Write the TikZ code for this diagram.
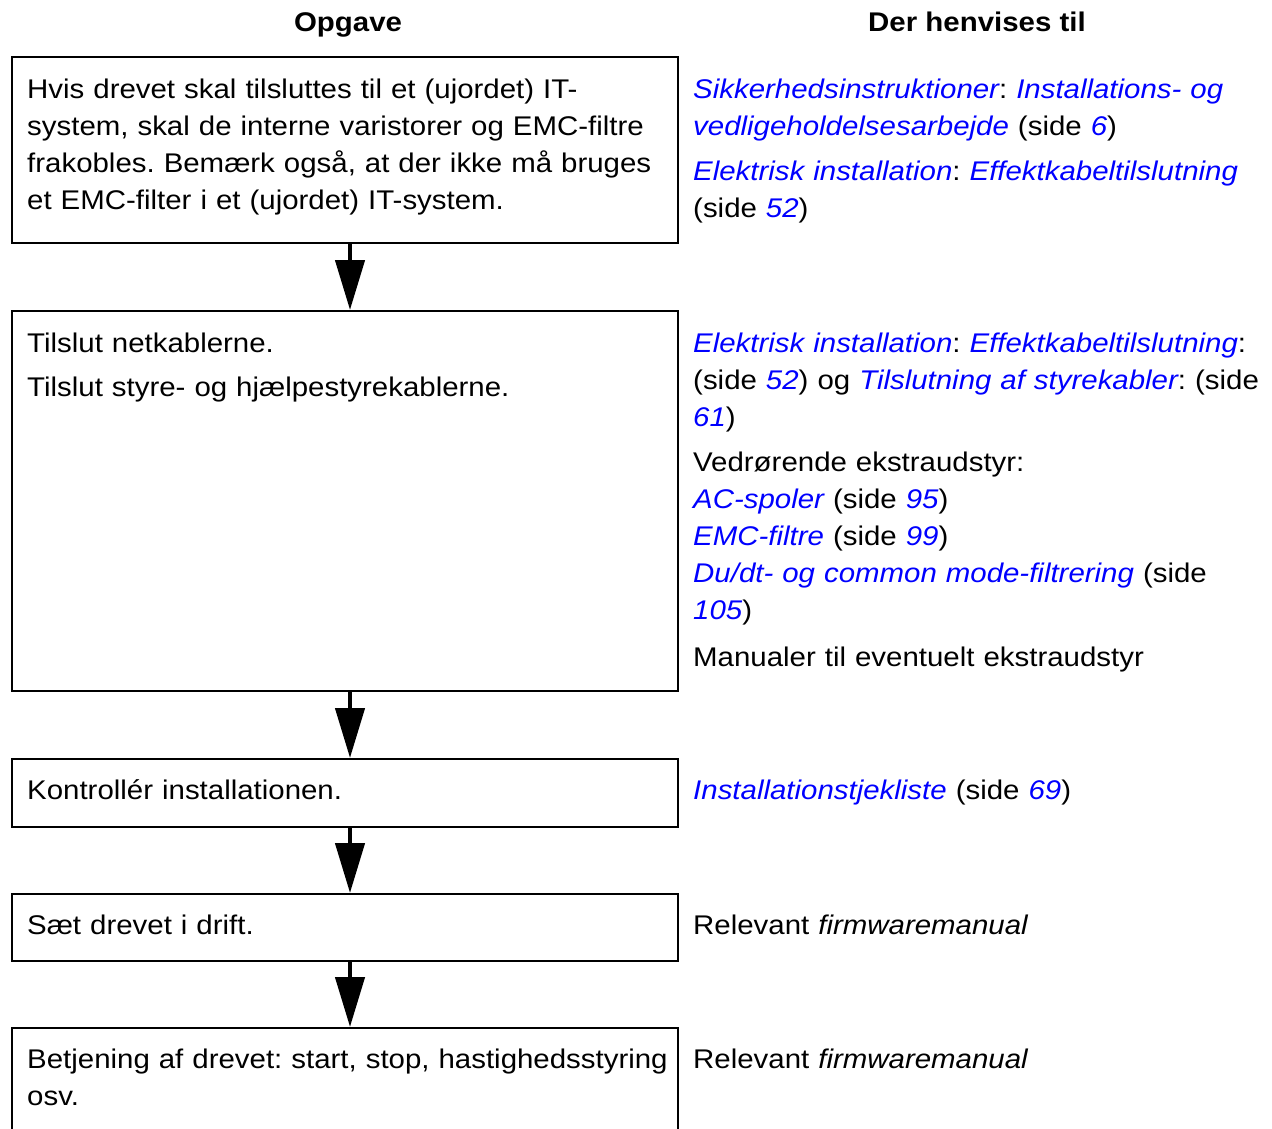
\documentclass[tikz,border=0pt]{standalone}
\usepackage{fontspec}
\setmainfont[FakeStretch=1.09]{Liberation Sans}
\usetikzlibrary{arrows.meta}
\definecolor{linkblue}{RGB}{0,0,255}
\newcommand{\lk}[1]{\textcolor{linkblue}{\itshape #1}}
\frenchspacing
\tikzset{
  stepbox/.style={draw=black, line width=2pt, inner sep=0pt, anchor=north west},
  txt/.style={anchor=base west, inner sep=0pt, text width=900pt, align=left,
    font=\fontsize{27}{37}\selectfont\frenchspacing},
  head/.style={anchor=base, inner sep=0pt, font=\fontsize{27}{37}\selectfont\bfseries},
  flow/.style={line width=4.5pt, -{Triangle[width=29pt,length=50pt]}}
}
\begin{document}
\begin{tikzpicture}[x=1pt,y=-1pt]
\clip (0,0) rectangle (1272,1128);
\fill[white] (0,0) rectangle (1272,1128);
% headers
\node[head] (h1) at (348,31) {Opgave};
\node[head] (h2) at (977,31) {Der henvises til};
% boxes
\node[stepbox, minimum width=666pt, minimum height=186pt] (b1) at (11,56) {};
\node[stepbox, minimum width=666pt, minimum height=380pt] (b2) at (11,310) {};
\node[stepbox, minimum width=666pt, minimum height=68pt] (b3) at (11,758) {};
\node[stepbox, minimum width=666pt, minimum height=67pt] (b4) at (11,893) {};
\node[stepbox, minimum width=666pt, minimum height=140pt] (b5) at (11,1027) {};
% arrows
\draw[flow] ([xshift=5pt]b1.south) -- ([xshift=5pt]b2.north);
\draw[flow] ([xshift=5pt]b2.south) -- ([xshift=5pt]b3.north);
\draw[flow] ([xshift=5pt]b3.south) -- ([xshift=5pt]b4.north);
\draw[flow] ([xshift=5pt]b4.south) -- ([xshift=5pt]b5.north);
% left texts
\node[txt] (t1) at (27,98) {Hvis drevet skal tilsluttes til et (ujordet) IT-\\system, skal de interne varistorer og EMC-filtre\\frakobles. Bemærk også, at der ikke må bruges\\et EMC-filter i et (ujordet) IT-system.};
\node[txt] (t2a) at (27,352) {Tilslut netkablerne.};
\node[txt] (t2b) at (27,396) {Tilslut styre- og hjælpestyrekablerne.};
\node[txt] (t3) at (27,799) {Kontrollér installationen.};
\node[txt] (t4) at (27,934) {Sæt drevet i drift.};
\node[txt] (t5) at (27,1068) {Betjening af drevet: start, stop, hastighedsstyring\\osv.};
% right texts
\node[txt] (r1a) at (693,98) {\lk{Sikkerhedsinstruktioner}: \lk{Installations- og}\\\lk{vedligeholdelsesarbejde} (side \lk{6})};
\node[txt] (r1b) at (693,180) {\lk{Elektrisk installation}: \lk{Effektkabeltilslutning}\\(side \lk{52})};
\node[txt] (r2a) at (693,352) {\lk{Elektrisk installation}: \lk{Effektkabeltilslutning}:\\(side \lk{52}) og \lk{Tilslutning af styrekabler}: (side\\\lk{61})};
\node[txt] (r2b) at (693,471) {Vedrørende ekstraudstyr:\\\lk{AC-spoler} (side \lk{95})\\\lk{EMC-filtre} (side \lk{99})\\\lk{Du/dt- og common mode-filtrering} (side\\\lk{105})};
\node[txt] (r2c) at (693,666) {Manualer til eventuelt ekstraudstyr};
\node[txt] (r3) at (693,799) {\lk{Installationstjekliste} (side \lk{69})};
\node[txt] (r4) at (693,934) {Relevant \textit{firmwaremanual}};
\node[txt] (r5) at (693,1068) {Relevant \textit{firmwaremanual}};
\end{tikzpicture}
\end{document}
